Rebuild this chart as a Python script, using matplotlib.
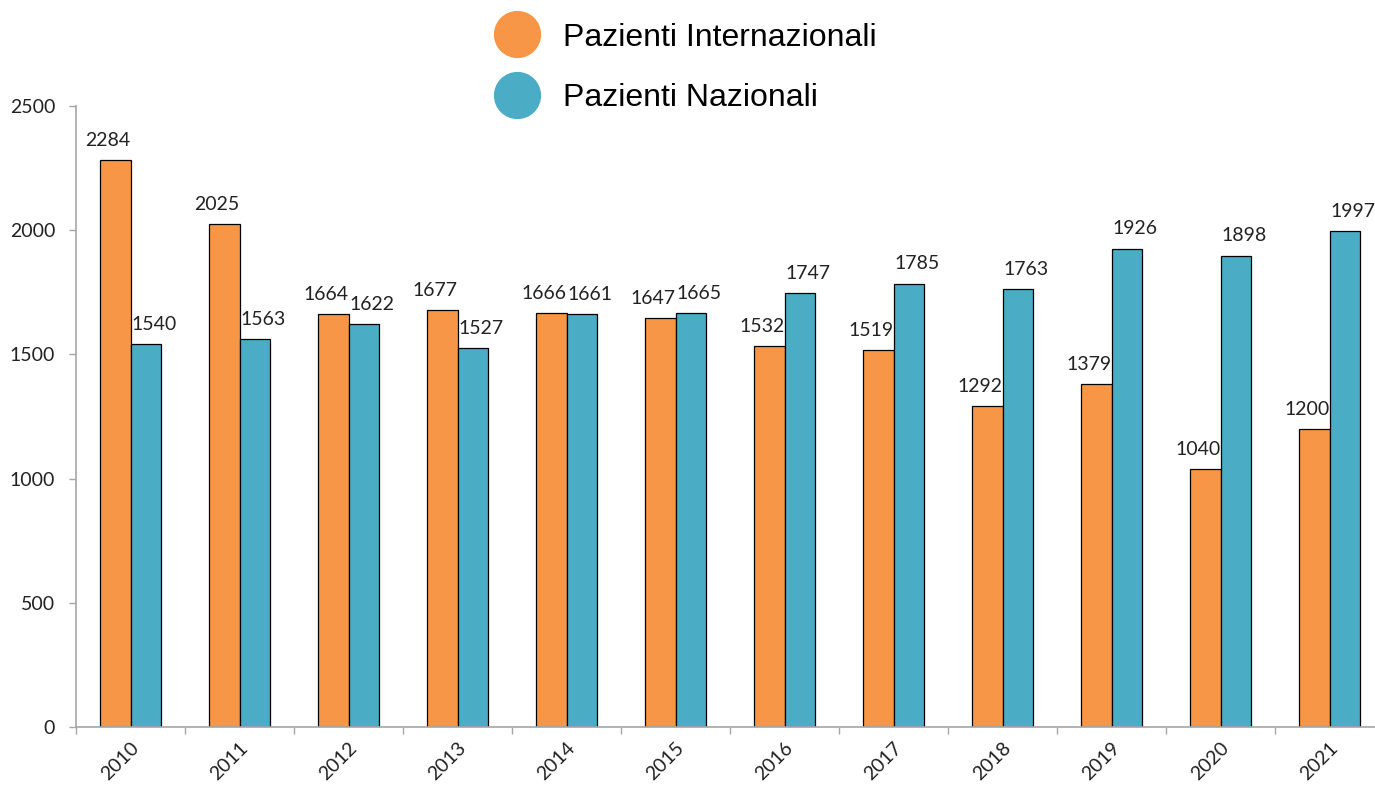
import numpy as np
import matplotlib
matplotlib.use("Agg")
import matplotlib.pyplot as plt
from matplotlib.lines import Line2D

years = ['2010', '2011', '2012', '2013', '2014', '2015',
         '2016', '2017', '2018', '2019', '2020', '2021']
internazionali = [2284, 2025, 1664, 1677, 1666, 1647, 1532, 1519, 1292, 1379, 1040, 1200]
nazionali = [1540, 1563, 1622, 1527, 1661, 1665, 1747, 1785, 1763, 1926, 1898, 1997]
series_names = ['Pazienti Internazionali', 'Pazienti Nazionali']

orange = '#F79646'
blue = '#4BACC6'
axis_gray = '#A6A6A6'

fig = plt.figure(figsize=(13.75, 7.87), dpi=100)
ax = fig.add_axes([76 / 1375, 60 / 787, 1308 / 1375, 621 / 787])

x = np.arange(len(years))
w = 0.284
b1 = ax.bar(x - w / 2, internazionali, w, color=orange, edgecolor='black', linewidth=0.9)
b2 = ax.bar(x + w / 2, nazionali, w, color=blue, edgecolor='black', linewidth=0.9)

# value labels above bars, nudged apart a little like the original
for rect, v in zip(b1, internazionali):
    ax.annotate(str(v), (rect.get_x() + rect.get_width() / 2, v),
                xytext=(-5, 8), textcoords='offset points',
                ha='center', va='bottom', fontsize=14, family='Lato', color='#222222')
for rect, v in zip(b2, nazionali):
    ax.annotate(str(v), (rect.get_x() + rect.get_width() / 2, v),
                xytext=(6, 8), textcoords='offset points',
                ha='center', va='bottom', fontsize=14, family='Lato', color='#222222')

ax.set_xlim(-0.5, len(years) - 0.5)
ax.set_ylim(0, 2500)
ax.set_yticks(np.arange(0, 2501, 500))

ax.set_xticks(x)
ax.set_xticklabels(years, rotation=45, ha='right', rotation_mode='anchor',
                   fontsize=14, family='Lato', color='#222222')
ax.set_xticks(np.arange(-0.5, len(years)), minor=True)
ax.tick_params(axis='x', which='major', length=0, pad=9)
ax.tick_params(axis='x', which='minor', length=5, width=1, color=axis_gray, direction='out')
ax.tick_params(axis='y', length=5, width=1, color=axis_gray, direction='out', pad=10,
               labelsize=14, labelcolor='#222222')
for lbl in ax.get_yticklabels():
    lbl.set_family('Lato')

for s in ['top', 'right']:
    ax.spines[s].set_visible(False)
for s in ['left', 'bottom']:
    ax.spines[s].set_color(axis_gray)
    ax.spines[s].set_linewidth(1.2)

handles = [Line2D([], [], marker='o', linestyle='none', markersize=33,
                  markerfacecolor=orange, markeredgecolor=orange),
           Line2D([], [], marker='o', linestyle='none', markersize=33,
                  markerfacecolor=blue, markeredgecolor=blue)]
fig.legend(handles, series_names, loc='center', bbox_to_anchor=(0.5, 0.914),
           frameon=False, prop={'family': 'Liberation Sans', 'size': 23},
           labelspacing=0.95, handletextpad=0.85, handlelength=1.2, borderpad=0)

fig.savefig('out.png', dpi=100)
